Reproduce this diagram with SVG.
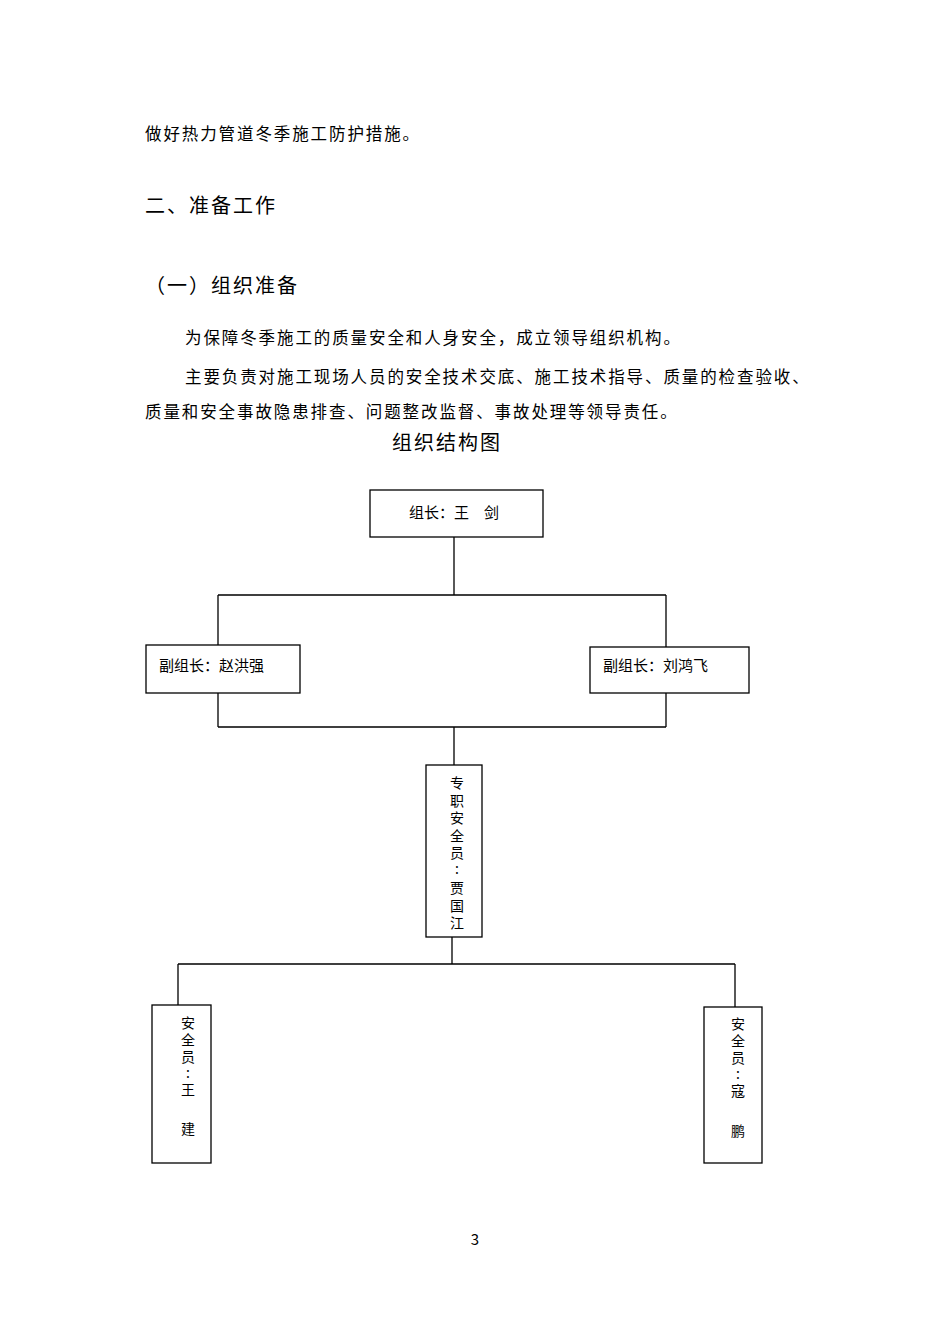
<svg xmlns="http://www.w3.org/2000/svg" width="950" height="1344" viewBox="0 0 950 1344">
<style>
text{font-family:"Noto Sans CJK SC","Noto Sans",sans-serif;fill:#000}
.b{font-size:16.5px;letter-spacing:1.9px}
.h{font-size:20px;letter-spacing:2px}
.n{font-size:15px}
.v{font-size:14px;text-anchor:middle}
.box{fill:#fff;stroke:#000;stroke-width:1.3}
#connectors path{fill:none;stroke:#000;stroke-width:1.3}
</style>
<rect width="950" height="1344" fill="#fff"/>
<text class="b" x="145" y="140">做好热力管道冬季施工防护措施。</text>
<text class="h" x="145" y="213">二、准备工作</text>
<text class="h" x="145" y="293">（一）组织准备</text>
<text class="b" x="185" y="344">为保障冬季施工的质量安全和人身安全，成立领导组织机构。</text>
<text class="b" x="185" y="383">主要负责对施工现场人员的安全技术交底、施工技术指导、质量的检查验收、</text>
<text class="b" x="145" y="418">质量和安全事故隐患排查、问题整改监督、事故处理等领导责任。</text>
<text class="h" x="447" y="450" text-anchor="middle">组织结构图</text>
<g id="connectors">
<path d="M454 537V595M218 595H666M218 595V645M666 595V647"/>
<path d="M218 693V727M666 693V727M218 727H666M454 727V765"/>
<path d="M452 937V964M178 964H735M178 964V1005M735 964V1007"/>
</g>
<g id="n1"><rect class="box" x="370" y="490" width="173" height="47"/><text class="n" x="454" y="518" text-anchor="middle">组长：王　剑</text></g>
<g id="n2"><rect class="box" x="146" y="645" width="154" height="48"/><text class="n" x="159" y="671">副组长：赵洪强</text></g>
<g id="n3"><rect class="box" x="590" y="647" width="159" height="46"/><text class="n" x="603" y="671">副组长：刘鸿飞</text></g>
<g id="n4"><rect class="box" x="426" y="765" width="56" height="172"/>
<text class="v" x="457" y="788">专</text><text class="v" x="457" y="805.5">职</text><text class="v" x="457" y="823">安</text><text class="v" x="457" y="840.5">全</text><text class="v" x="457" y="858">员</text><text class="v" x="457" y="874">:</text><text class="v" x="457" y="893">贾</text><text class="v" x="457" y="910.5">国</text><text class="v" x="457" y="928">江</text></g>
<g id="n5"><rect class="box" x="152" y="1005" width="59" height="158"/>
<text class="v" x="188" y="1028">安</text><text class="v" x="188" y="1045">全</text><text class="v" x="188" y="1062">员</text><text class="v" x="188" y="1078">:</text><text class="v" x="188" y="1095">王</text><text class="v" x="188" y="1134">建</text></g>
<g id="n6"><rect class="box" x="704" y="1007" width="58" height="156"/>
<text class="v" x="738" y="1029">安</text><text class="v" x="738" y="1046">全</text><text class="v" x="738" y="1063">员</text><text class="v" x="738" y="1079">:</text><text class="v" x="738" y="1096">寇</text><text class="v" x="738" y="1136">鹏</text></g>
<text x="475" y="1245" font-family="Liberation Serif,serif" font-size="15" text-anchor="middle">3</text>
</svg>
